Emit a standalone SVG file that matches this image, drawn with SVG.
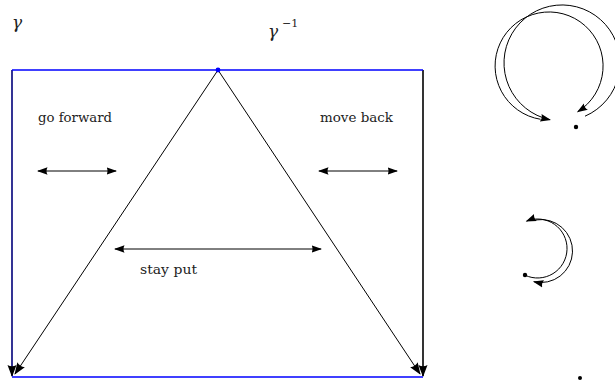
<svg xmlns="http://www.w3.org/2000/svg" width="615" height="381" viewBox="0 0 615 381">
<style>
.lbl{font-family:'DejaVu Serif','Liberation Serif',serif;font-size:13px;fill:#222}
.math{font-family:'DejaVu Serif','Liberation Serif',serif;font-style:italic;font-size:17px;fill:#222}
.sup{font-family:'DejaVu Serif','Liberation Serif',serif;font-size:11px;fill:#222}
.thin{stroke:#000;stroke-width:1;fill:none}
.dbl{stroke:#000;stroke-width:1;fill:none;marker-start:url(#ah);marker-end:url(#ah)}
</style>
<defs>
<marker id="ah" markerUnits="userSpaceOnUse" markerWidth="12" markerHeight="10" refX="9.5" refY="3.8" orient="auto-start-reverse" viewBox="0 0 12 8">
<path d="M0,0 L10.5,3.8 L0,7.6 Q2,3.8 0,0 z" fill="#000"/>
</marker>
<marker id="ahb" markerUnits="userSpaceOnUse" markerWidth="14" markerHeight="12" refX="11" refY="4.5" orient="auto" viewBox="0 0 14 9">
<path d="M0,0 L12,4.5 L0,9 Q2.5,4.5 0,0 z" fill="#000"/>
</marker>
</defs>
<g id="labels">
<text class="math" x="12" y="28">γ</text>
<text class="math" x="268" y="37">γ</text>
<text class="sup" x="282" y="27">−1</text>
</g>
<g id="connectors">
<line x1="12" y1="70" x2="12" y2="376" stroke="#00007a" stroke-width="1.6" marker-end="url(#ahb)"/>
<line x1="423" y1="70" x2="423" y2="376" stroke="#000" stroke-width="1.6" marker-end="url(#ahb)"/>
<line x1="218" y1="70" x2="15" y2="374" class="thin" marker-end="url(#ahb)"/>
<line x1="218" y1="70" x2="420" y2="374" class="thin" marker-end="url(#ahb)"/>
<line x1="12" y1="70" x2="423" y2="70" stroke="#0000ff" stroke-width="1.6"/>
<line x1="12" y1="377" x2="423" y2="377" stroke="#0000ff" stroke-width="1.6"/>
<line x1="38" y1="171" x2="116" y2="171" class="dbl"/>
<line x1="319" y1="171" x2="397" y2="171" class="dbl"/>
<line x1="115" y1="249" x2="321" y2="249" class="dbl"/>
<path d="M540.6,119.3 A54,54 0 1 1 577.8,111.7" class="thin" marker-end="url(#ah)"/>
<path d="M585,116.2 A58,58 0 1 0 550,119.7" class="thin" marker-end="url(#ah)"/>
<path d="M525,275.2 A29.5,29.5 0 1 0 526.6,221.1" class="thin" marker-end="url(#ah)"/>
<path d="M536.1,219.9 A31.5,31.5 0 1 1 533.9,281.7" class="thin" marker-end="url(#ah)"/>
</g>
<g id="apex"><circle cx="218" cy="70" r="2.4" fill="#0000ff"/></g>
<g id="go-forward"><text class="lbl" x="38" y="122" textLength="74" lengthAdjust="spacingAndGlyphs">go forward</text></g>
<g id="move-back"><text class="lbl" x="320" y="122" textLength="73" lengthAdjust="spacingAndGlyphs">move back</text></g>
<g id="stay-put"><text class="lbl" x="140" y="274" textLength="57" lengthAdjust="spacingAndGlyphs">stay put</text></g>
<g id="point-1"><circle cx="576" cy="127" r="2.2" fill="#000"/></g>
<g id="point-2"><circle cx="525" cy="275" r="2.2" fill="#000"/></g>
<g id="point-3"><circle cx="580" cy="378" r="2" fill="#000"/></g>
</svg>
